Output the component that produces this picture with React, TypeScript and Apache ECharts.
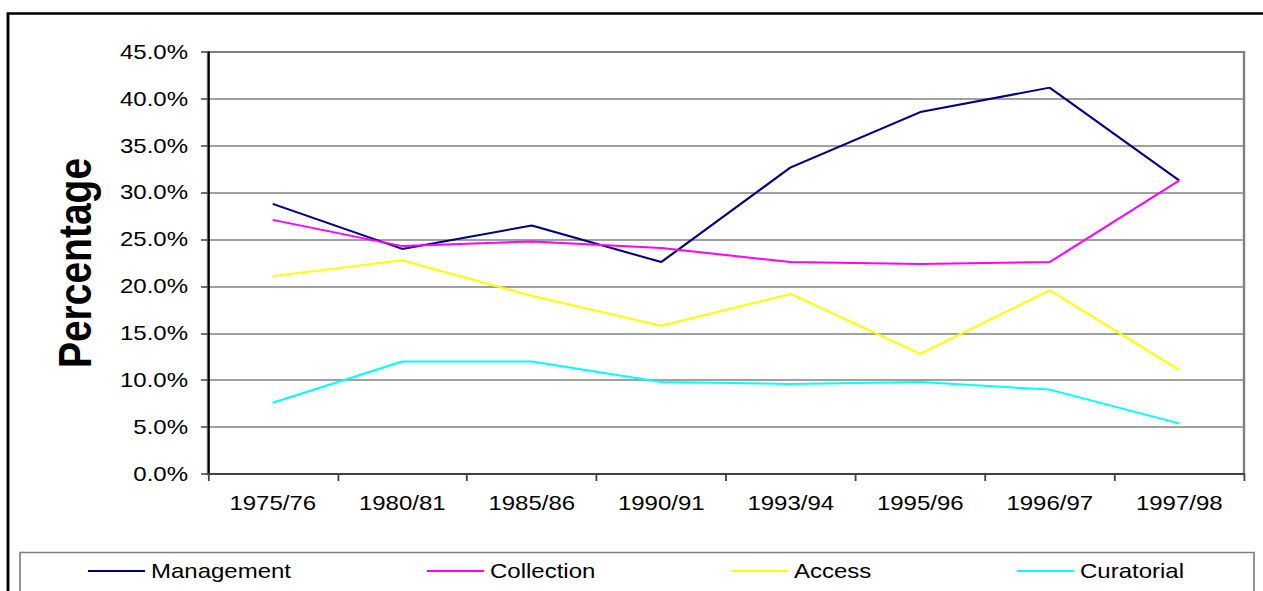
import React, { useEffect, useRef } from "react";
import * as echarts from "echarts";

const categories = ["1975/76", "1980/81", "1985/86", "1990/91", "1993/94", "1995/96", "1996/97", "1997/98"];
const management = [28.8, 24.0, 26.5, 22.6, 32.7, 38.6, 41.2, 31.3];
const collection = [27.1, 24.3, 24.8, 24.1, 22.6, 22.4, 22.6, 31.3];
const access = [21.1, 22.8, 19.0, 15.8, 19.2, 12.8, 19.6, 11.1];
const curatorial = [7.6, 12.0, 12.0, 9.8, 9.6, 9.8, 9.0, 5.4];

const seriesNames = ["Management", "Collection", "Access", "Curatorial"];
const seriesValues = [management, collection, access, curatorial];
const seriesColors = ["#000080", "#FF00FF", "#FFFF00", "#00FFFF"];

// The chart is laid out on a narrower canvas and stretched horizontally,
// giving the wide letterforms of the original spreadsheet export.
const STRETCH = 1.2;
const PAGE_W = 1263;
const PAGE_H = 591;
const INNER_W = PAGE_W / STRETCH;
const sx = (px: number) => px / STRETCH;

const legendLeft = [88, 427, 731, 1017];

const FONT = '"Liberation Sans", Arial, Helvetica, sans-serif';

export default function App() {
  const ref = useRef<HTMLDivElement>(null);

  useEffect(() => {
    if (!ref.current) return;
    const chart = echarts.init(ref.current, undefined, {
      renderer: "svg",
      width: INNER_W,
      height: PAGE_H,
    });
    chart.setOption({
      animation: false,
      backgroundColor: "#ffffff",
      textStyle: { fontFamily: FONT },
      grid: {
        left: sx(208),
        right: sx(19),
        top: 52,
        bottom: 117,
        show: true,
        borderColor: "#808080",
        borderWidth: 2,
      },
      legend: seriesNames.map((name, i) => ({
        data: [name],
        left: sx(legendLeft[i]),
        top: 560,
        icon: "rect",
        itemWidth: sx(57),
        itemHeight: 2,
        itemGap: 0,
        padding: 0,
        selectedMode: false,
        textStyle: { fontSize: 20, color: "#000", fontFamily: FONT, lineHeight: 22, padding: [0, 0, 0, 0] },
      })),
      xAxis: {
        type: "category",
        data: categories,
        boundaryGap: true,
        axisLine: { lineStyle: { color: "#404040", width: 2 } },
        axisTick: { show: true, length: 7, inside: false, lineStyle: { color: "#404040", width: 1.5 } },
        axisLabel: { fontSize: 20, color: "#000", margin: 19, fontFamily: FONT },
      },
      yAxis: {
        type: "value",
        min: 0,
        max: 45,
        interval: 5,
        name: "Percentage",
        nameLocation: "middle",
        nameGap: 92,
        nameTextStyle: { fontSize: 39, fontWeight: "bold", color: "#000", fontFamily: FONT },
        axisLine: { show: true, lineStyle: { color: "#000", width: 1.7 } },
        axisTick: { show: true, length: sx(7), lineStyle: { color: "#404040", width: 1.5 } },
        axisLabel: {
          fontSize: 20,
          color: "#000",
          margin: sx(20),
          fontFamily: FONT,
          formatter: (v: number) => v.toFixed(1) + "%",
        },
        splitLine: { show: true, lineStyle: { color: "#808080", width: 1.5 } },
      },
      series: seriesNames.map((name, i) => ({
        name,
        type: "line",
        data: seriesValues[i],
        symbol: "none",
        color: seriesColors[i],
        lineStyle: { color: seriesColors[i], width: 2 },
        itemStyle: { color: seriesColors[i] },
      })),
      graphic: [
        {
          type: "rect",
          left: sx(5),
          top: 11,
          shape: { x: 0, y: 0, width: sx(1280), height: 600 },
          style: { fill: "none", stroke: "#000", lineWidth: 2.4 },
          silent: true,
          z: 10,
        },
        {
          type: "rect",
          left: sx(17),
          top: 550,
          shape: { x: 0, y: 0, width: sx(1234), height: 60 },
          style: { fill: "none", stroke: "#808080", lineWidth: 1.4 },
          silent: true,
          z: 10,
        },
      ],
    });
    return () => chart.dispose();
  }, []);

  return (
    <div
      style={{
        position: "fixed",
        left: 0,
        top: 0,
        width: PAGE_W,
        height: PAGE_H,
        overflow: "hidden",
        background: "#fff",
      }}
    >
      <div
        ref={ref}
        style={{
          width: INNER_W,
          height: PAGE_H,
          transform: `scaleX(${STRETCH})`,
          transformOrigin: "0 0",
        }}
      />
    </div>
  );
}
